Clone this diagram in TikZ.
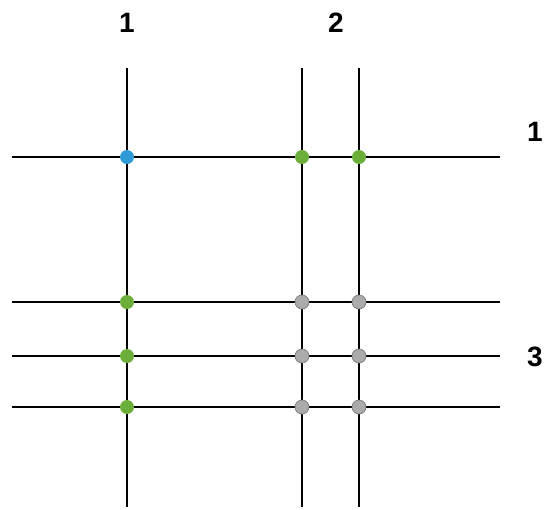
\documentclass[tikz,border=0pt]{standalone}
\usepackage{fontspec}
\setmainfont{Liberation Sans}
\definecolor{dotblue}{HTML}{2E9AD6}
\definecolor{dotgreen}{HTML}{6BAE3A}
\definecolor{dotgray}{HTML}{ABABAB}
\begin{document}
\begin{tikzpicture}[x=1pt,y=-1pt,
  gridline/.style={line width=1.8pt,black},
  dot/.style={circle,inner sep=0pt,minimum size=14pt},
  bluedot/.style={dot,fill=dotblue},
  greendot/.style={dot,fill=dotgreen},
  graydot/.style={dot,fill=dotgray,draw=black!55,line width=0.6pt},
  lab/.style={font=\fontsize{28}{28}\selectfont\bfseries,inner sep=0pt}]
\useasboundingbox (0,0) rectangle (545,509);
% vertical line ends
\foreach \n/\x in {a/127,b/302,c/359}{
  \coordinate (\n top) at (\x,68);
  \coordinate (\n bot) at (\x,507);
}
% horizontal line ends
\foreach \n/\y in {p/157,q/302,r/356,s/407}{
  \coordinate (\n L) at (12,\y);
  \coordinate (\n R) at (500,\y);
}
\foreach \n in {a,b,c}{\draw[gridline] (\n top) -- (\n bot);}
\foreach \n in {p,q,r,s}{\draw[gridline] (\n L) -- (\n R);}
% dots
\node[bluedot] (ap) at (127,157) {};
\node[greendot] (bp) at (302,157) {};
\node[greendot] (cp) at (359,157) {};
\node[greendot] (aq) at (127,302) {};
\node[greendot] (ar) at (127,356) {};
\node[greendot] (as) at (127,407) {};
\node[graydot] (bq) at (302,302) {};
\node[graydot] (cq) at (359,302) {};
\node[graydot] (br) at (302,356) {};
\node[graydot] (cr) at (359,356) {};
\node[graydot] (bs) at (302,407) {};
\node[graydot] (cs) at (359,407) {};
% labels
\node[lab] (l1) at (127,23) {1};
\node[lab] (l2) at (336,23) {2};
\node[lab] (r1) at (535,132) {1};
\node[lab] (r3) at (535,357) {3};
\end{tikzpicture}
\end{document}
